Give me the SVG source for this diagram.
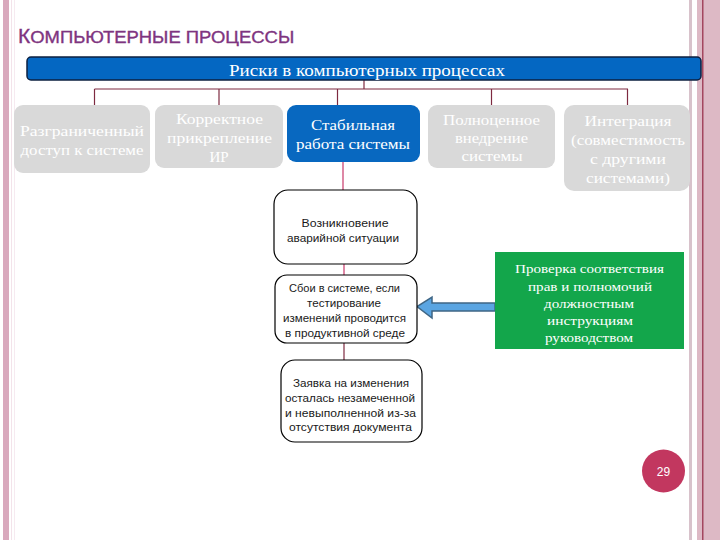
<svg xmlns="http://www.w3.org/2000/svg" width="720" height="540" viewBox="0 0 720 540">
<style>
.gray{fill:#D9D9D9;}
.gt{font-family:"Liberation Serif","DejaVu Serif",serif;font-size:15px;fill:#FFFFFF;text-anchor:middle;}
.bt{font-family:"Liberation Serif","DejaVu Serif",serif;font-size:15px;fill:#FFFFFF;text-anchor:middle;}
.mb{fill:#FFFFFF;stroke:#000000;stroke-width:1.2;}
.mt{font-family:"Liberation Sans","Arial",sans-serif;font-size:11px;fill:#1A1A1A;text-anchor:middle;}
.grt{font-family:"Liberation Serif","DejaVu Serif",serif;font-size:13.5px;fill:#FFFFFF;text-anchor:middle;}
.top{stroke:#7E2A40;stroke-width:1.2;fill:none;}
.mid{stroke:#C8386A;stroke-width:1.2;fill:none;}
</style>
<rect x="0" y="0" width="720" height="540" fill="#FFFFFF"/>
<!-- page borders -->
<rect x="3" y="0" width="6" height="540" fill="#D9A9BD"/>
<rect x="11" y="0" width="1" height="540" fill="#F3E3EA"/>
<rect x="14" y="0" width="1" height="540" fill="#F6EAF0"/>
<rect x="689" y="0" width="3" height="540" fill="#D8C2CB"/>
<rect x="697" y="0" width="23" height="540" fill="#DDB9C5"/>
<rect x="702" y="0" width="1.5" height="540" fill="#A3465F"/>
<!-- title -->
<text x="18" y="43" font-family="Liberation Sans, Arial, sans-serif" fill="#7E3480" stroke="#7E3480" stroke-width="0.35"><tspan font-size="21">К</tspan><tspan font-size="17" textLength="264" lengthAdjust="spacingAndGlyphs">ОМПЬЮТЕРНЫЕ ПРОЦЕССЫ</tspan></text>
<!-- connectors -->
<g id="connectors">
<line class="top" x1="364" y1="80" x2="364" y2="89"/>
<line class="top" x1="94.5" y1="89" x2="628" y2="89"/>
<line class="top" x1="94.5" y1="89" x2="94.5" y2="105"/>
<line class="top" x1="219" y1="89" x2="219" y2="105"/>
<line class="top" x1="337.5" y1="89" x2="337.5" y2="105"/>
<line class="top" x1="491.5" y1="89" x2="491.5" y2="105"/>
<line class="top" x1="627.5" y1="89" x2="627.5" y2="105"/>
<line class="mid" x1="343" y1="162" x2="343" y2="190"/>
<line class="mid" x1="344" y1="264" x2="344" y2="275"/>
<line class="top" x1="344" y1="343" x2="344" y2="360"/>
<path d="M495,303 L432,303 L432,297 L417,306.5 L432,318 L432,311 L495,311 Z" fill="#5AA5E2" stroke="#3F6685" stroke-width="1.5" stroke-linejoin="miter"/>
</g>
<!-- header -->
<g id="header">
<rect x="27" y="57" width="674" height="23" rx="4" fill="#0467C2" stroke="#0D2040" stroke-width="1.5"/>
<text x="367" y="76" font-family="Liberation Serif, DejaVu Serif, serif" font-size="16.5" fill="#FFFFFF" text-anchor="middle" textLength="276" lengthAdjust="spacingAndGlyphs">Риски в компьютерных процессах</text>
</g>
<!-- top row -->
<g id="n1">
<rect class="gray" x="14" y="105" width="136" height="68" rx="9"/>
<text class="gt" x="82" y="136" textLength="124" lengthAdjust="spacingAndGlyphs">Разграниченный</text>
<text class="gt" x="82" y="155" textLength="123" lengthAdjust="spacingAndGlyphs">доступ к системе</text>
</g>
<g id="n2">
<rect class="gray" x="155" y="105" width="128" height="63" rx="9"/>
<text class="gt" x="219.5" y="124" textLength="87" lengthAdjust="spacingAndGlyphs">Корректное</text>
<text class="gt" x="219.5" y="143" textLength="105" lengthAdjust="spacingAndGlyphs">прикрепление</text>
<text class="gt" x="219" y="162">ИР</text>
</g>
<g id="n3">
<rect x="287" y="105" width="133" height="57" rx="9" fill="#0868C0"/>
<text class="bt" x="353" y="130" textLength="84" lengthAdjust="spacingAndGlyphs">Стабильная</text>
<text class="bt" x="353" y="149" textLength="114" lengthAdjust="spacingAndGlyphs">работа системы</text>
</g>
<g id="n4">
<rect class="gray" x="428" y="105" width="127" height="63" rx="9"/>
<text class="gt" x="491.5" y="125" textLength="97" lengthAdjust="spacingAndGlyphs">Полноценное</text>
<text class="gt" x="491.5" y="143" textLength="73" lengthAdjust="spacingAndGlyphs">внедрение</text>
<text class="gt" x="492" y="161" textLength="61" lengthAdjust="spacingAndGlyphs">системы</text>
</g>
<g id="n5">
<rect class="gray" x="564" y="105" width="126" height="86" rx="10"/>
<text class="gt" x="628" y="126" textLength="87" lengthAdjust="spacingAndGlyphs">Интеграция</text>
<text class="gt" x="628" y="145" textLength="114" lengthAdjust="spacingAndGlyphs">(совместимость</text>
<text class="gt" x="628" y="164" textLength="76" lengthAdjust="spacingAndGlyphs">с другими</text>
<text class="gt" x="628" y="183" textLength="84" lengthAdjust="spacingAndGlyphs">системами)</text>
</g>
<!-- middle column -->
<g id="m1">
<rect class="mb" x="274" y="190" width="143" height="74" rx="14"/>
<text class="mt" x="345" y="227" textLength="87" lengthAdjust="spacingAndGlyphs">Возникновение</text>
<text class="mt" x="343" y="242" textLength="112" lengthAdjust="spacingAndGlyphs">аварийной ситуации</text>
</g>
<g id="m2">
<rect class="mb" x="275" y="275" width="142" height="68" rx="12"/>
<text class="mt" x="344.5" y="292" textLength="111" lengthAdjust="spacingAndGlyphs">Сбои в системе, если</text>
<text class="mt" x="344" y="307" textLength="74" lengthAdjust="spacingAndGlyphs">тестирование</text>
<text class="mt" x="344.5" y="322" textLength="123" lengthAdjust="spacingAndGlyphs">изменений проводится</text>
<text class="mt" x="345" y="337" textLength="120" lengthAdjust="spacingAndGlyphs">в продуктивной среде</text>
</g>
<g id="m3">
<rect class="mb" x="281" y="360" width="141" height="82" rx="14"/>
<text class="mt" x="351" y="387" textLength="116" lengthAdjust="spacingAndGlyphs">Заявка на изменения</text>
<text class="mt" x="350" y="402" textLength="130" lengthAdjust="spacingAndGlyphs">осталась незамеченной</text>
<text class="mt" x="350.5" y="417" textLength="131" lengthAdjust="spacingAndGlyphs">и невыполненной из-за</text>
<text class="mt" x="350.5" y="431" textLength="123" lengthAdjust="spacingAndGlyphs">отсутствия документа</text>
</g>
<!-- green box -->
<g id="g1">
<rect x="495" y="252" width="189" height="97" fill="#13A64B"/>
<text class="grt" x="589.5" y="273" textLength="149" lengthAdjust="spacingAndGlyphs">Проверка соответствия</text>
<text class="grt" x="590" y="291" textLength="124" lengthAdjust="spacingAndGlyphs">прав и полномочий</text>
<text class="grt" x="589" y="308" textLength="90" lengthAdjust="spacingAndGlyphs">должностным</text>
<text class="grt" x="590" y="325" textLength="86" lengthAdjust="spacingAndGlyphs">инструкциям</text>
<text class="grt" x="589" y="342" textLength="88" lengthAdjust="spacingAndGlyphs">руководством</text>
</g>
<!-- page number -->
<g id="page">
<circle cx="663.5" cy="471" r="21.5" fill="#C2375F"/>
<text x="663.5" y="475.5" font-family="Liberation Sans, Arial, sans-serif" font-size="12" fill="#FFFFFF" text-anchor="middle">29</text>
</g>
</svg>
